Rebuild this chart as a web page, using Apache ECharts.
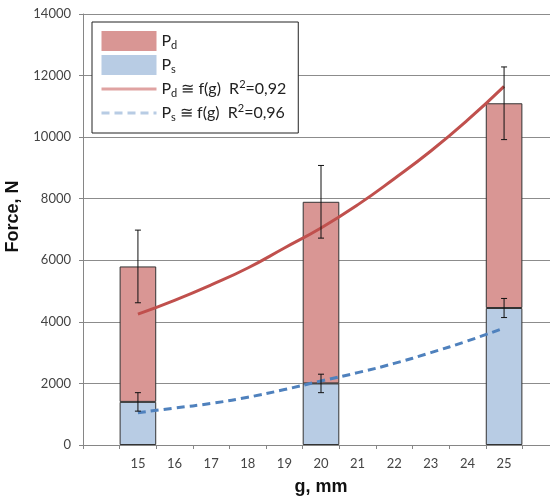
<!DOCTYPE html>
<html><head><meta charset="utf-8">
<script src="https://cdn.jsdelivr.net/npm/echarts@6/dist/echarts.min.js"></script>
<style>html,body{margin:0;padding:0;background:#fff}#c{width:550px;height:501px}</style>
</head><body><div id="c"></div>
<script>
// ---- data ----
const categories = ['', '15', '16', '17', '18', '19', '20', '21', '22', '23', '24', '25', ''];
const barCategories = ['15', '20', '25'];
const psValues = [1400, 2000, 4450];
const pdTotals = [5800, 7900, 11100];
const pdErrors = [1180, 1180, 1180];
const psErrors = [300, 300, 310];
const fitCategories = ['15', '16', '17', '18', '19', '20', '21', '22', '23', '24', '25'];
const pdFit = [4250, 4700, 5200, 5750, 6400, 7050, 7800, 8650, 9550, 10550, 11650];
const psFit = [1050, 1200, 1350, 1550, 1800, 2080, 2350, 2650, 3000, 3380, 3800];
const yMin = 0, yMax = 14000, yInterval = 2000;

// ---- build ----
function byCat(arr) {
  return categories.map(c => { const i = barCategories.indexOf(c); return i >= 0 ? arr[i] : null; });
}
function fitByCat(arr) {
  return categories.map(c => { const i = fitCategories.indexOf(c); return i >= 0 ? arr[i] : null; });
}
const pdSegments = pdTotals.map((t, i) => t - psValues[i]);

function errRender(params, api) {
  const x = api.value(0), v = api.value(1), e = api.value(2);
  const hi = api.coord([x, v + e]), lo = api.coord([x, v - e]);
  const cap = 3;
  const st = { stroke: '#111', lineWidth: 1 };
  return { type: 'group', children: [
    { type: 'line', shape: { x1: hi[0], y1: hi[1], x2: lo[0], y2: lo[1] }, style: st },
    { type: 'line', shape: { x1: hi[0] - cap, y1: hi[1], x2: hi[0] + cap, y2: hi[1] }, style: st },
    { type: 'line', shape: { x1: lo[0] - cap, y1: lo[1], x2: lo[0] + cap, y2: lo[1] }, style: st }
  ]};
}

const legendText = {
  'Pd': 'P{sub|d}',
  'Ps': 'P{sub|s}',
  'PdFit': 'P{sub|d} ≅ f(g)  R{sup|2}=0,92',
  'PsFit': 'P{sub|s} ≅ f(g)  R{sup|2}=0,96'
};

const chart = echarts.init(document.getElementById('c'), null, { renderer: 'canvas' });
chart.setOption({
  animation: false,
  backgroundColor: '#fff',
  grid: { left: 83, right: -9, top: 14, bottom: 56, containLabel: false, outerBoundsMode: 'none' },
  legend: {
    orient: 'vertical', left: 92, top: 22,
    padding: [9, 12, 10, 8],
    itemWidth: 55, itemHeight: 20, itemGap: 4,
    backgroundColor: '#fff', borderColor: '#222', borderWidth: 1,
    selectedMode: false,
    itemStyle: { borderWidth: 0 },
    data: [
      { name: 'Pd', icon: 'rect' },
      { name: 'Ps', icon: 'rect' },
      { name: 'PdFit', itemStyle: { opacity: 0 }, lineStyle: { color: '#e0a3a2', width: 3 } },
      { name: 'PsFit', itemStyle: { opacity: 0 }, lineStyle: { color: '#b8cce4', width: 3, type: [8, 5] } }
    ],
    formatter: n => legendText[n],
    textStyle: {
      fontFamily: 'Lato', fontSize: 16, color: '#222', lineHeight: 20,
      rich: {
        sub: { fontFamily: 'Lato', fontSize: 11, color: '#222', lineHeight: 11, verticalAlign: 'bottom' },
        sup: { fontFamily: 'Lato', fontSize: 11, color: '#222', lineHeight: 11, verticalAlign: 'top' }
      }
    }
  },
  xAxis: {
    type: 'category', data: categories,
    name: 'g, mm', nameLocation: 'middle', nameGap: 33,
    nameTextStyle: { fontFamily: 'Liberation Sans', fontWeight: 'bold', fontSize: 18, color: '#111' },
    axisLine: { lineStyle: { color: '#868686' } },
    axisTick: { show: true, interval: 0, length: 4, lineStyle: { color: '#868686' } },
    axisLabel: { interval: 0, margin: 12, fontFamily: 'Lato', fontSize: 13, color: '#444' },
    splitLine: { show: false }
  },
  yAxis: {
    type: 'value', min: yMin, max: yMax, interval: yInterval,
    name: 'Force, N', nameLocation: 'middle', nameGap: 54, nameRotate: 90,
    nameTextStyle: { fontFamily: 'Liberation Sans', fontWeight: 'bold', fontSize: 18, color: '#111', padding: [0, 0, 0, 26] },
    axisLine: { show: true, lineStyle: { color: '#868686' } },
    axisTick: { show: true, length: 4, lineStyle: { color: '#868686' } },
    axisLabel: { margin: 12, fontFamily: 'Lato', fontSize: 13, color: '#444', formatter: v => String(v) },
    splitLine: { show: true, lineStyle: { color: '#8c8c8c', width: 1 } }
  },
  series: [
    { name: 'Ps', type: 'bar', stack: 's', data: byCat(psValues), barCategoryGap: '0%',
      itemStyle: { color: '#b8cce4', borderColor: '#333', borderWidth: 1 }, z: 2 },
    { name: 'Pd', type: 'bar', stack: 's', data: byCat(pdSegments), barCategoryGap: '0%',
      itemStyle: { color: '#d99694', borderColor: '#333', borderWidth: 1 }, z: 2 },
    { name: 'PdFit', type: 'line', data: fitByCat(pdFit), symbol: 'none', smooth: true,
      lineStyle: { color: '#c0504d', width: 3 }, itemStyle: { color: '#c0504d' }, z: 4 },
    { name: 'PsFit', type: 'line', data: fitByCat(psFit), symbol: 'none', smooth: true,
      lineStyle: { color: '#4f81bd', width: 3, type: [8, 5] }, itemStyle: { color: '#4f81bd' }, z: 4 },
    { name: 'errPd', type: 'custom', renderItem: errRender, z: 5,
      data: barCategories.map((c, i) => [c, pdTotals[i], pdErrors[i]]), encode: { x: 0, y: 1 } },
    { name: 'errPs', type: 'custom', renderItem: errRender, z: 5,
      data: barCategories.map((c, i) => [c, psValues[i], psErrors[i]]), encode: { x: 0, y: 1 } }
  ]
});
</script>
</body></html>
